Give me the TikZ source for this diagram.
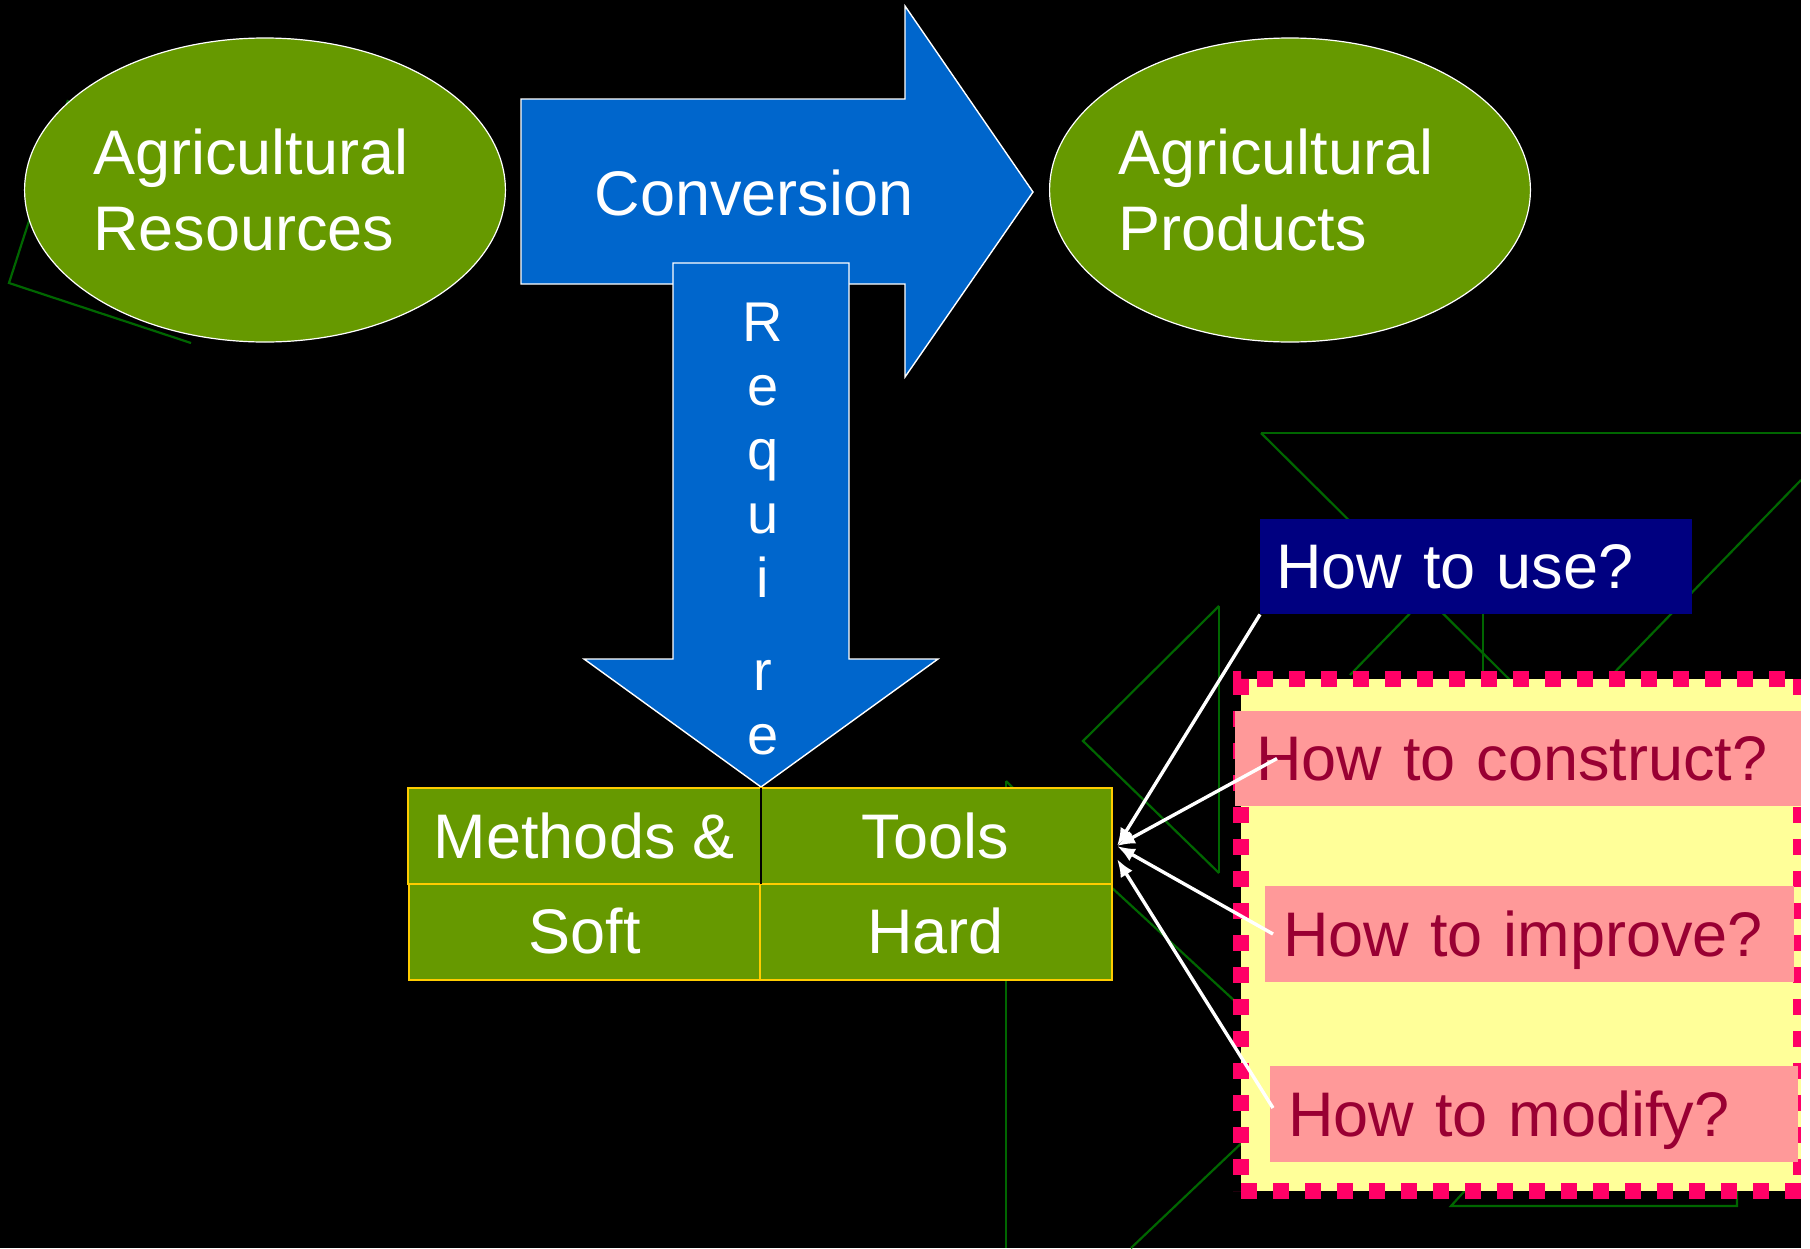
\documentclass[tikz,border=0pt]{standalone}
\usepackage{fontspec}
\setmainfont{Liberation Sans}
\usetikzlibrary{shapes.geometric,arrows.meta,positioning}

\definecolor{leaf}{HTML}{669900}
\definecolor{sky}{HTML}{0066CC}
\definecolor{deepblue}{HTML}{000080}
\definecolor{lemon}{HTML}{FFFF99}
\definecolor{rose}{HTML}{FF9999}
\definecolor{wine}{HTML}{990033}
\definecolor{hotpink}{HTML}{FF0066}
\definecolor{gold}{HTML}{FFCC00}
\definecolor{stem}{HTML}{006600}

\newcommand{\slidefont}{\fontsize{31.5pt}{38pt}\selectfont}

\tikzset{
  blob/.style={ellipse, draw=white, line width=0.6pt, fill=leaf, text=white, font=\slidefont,
    minimum width=240pt, minimum height=152pt, inner xsep=-1pt, inner ysep=0pt, text width=172pt, align=left},
  cell/.style={rectangle, fill=leaf, text=white, font=\slidefont, minimum width=176pt,
    minimum height=48pt, inner sep=0pt, text depth=0pt},
  ask/.style={rectangle, font=\slidefont, minimum height=47.5pt, inner ysep=0pt,
    text depth=0pt, align=left, anchor=west},
  trace/.style={draw=stem, line width=1.1pt},
  bigarrow/.style={fill=sky, draw=white, line width=0.7pt, line join=miter},
}

\begin{document}
\begin{tikzpicture}[x=0.5pt, y=-0.5pt, node distance=175.5pt]
			\useasboundingbox (0,0) rectangle (1810,1248);
			\fill[black] (0,0) rectangle (1801,1248);

			\draw[trace] (68,100) -- (9,283) -- (191,343);
			\draw[trace] (1261,433) -- (1801,433);
			\draw[trace] (1261,433) -- (1515,685);
			\draw[trace] (1801,480) -- (1610,677);
			\draw[trace] (1483,600) -- (1483,685);
			\draw[trace] (1425,598) -- (1350,675);
			\draw[trace] (1219,606) -- (1219,873);
			\draw[trace] (1219,606) -- (1083,741) -- (1219,873);
			\draw[trace] (1060,840) -- (1250,1015);
			\draw[trace] (1006,781) -- (1006,1248);
			\draw[trace] (1006,781) -- (1030,805);
			\draw[trace] (1131,1248) -- (1250,1135);
			\draw[trace] (1470,1185) -- (1451,1206) -- (1737,1206) -- (1737,1185);

			\node[blob] (res) at (265,190) {Agricultural\\Resources};
			\node[blob] (prod) at (1290,190) {Agricultural\\Products};

			\draw[bigarrow] (521,99) -- (905,99) -- (905,6) -- (1033,192) -- (905,377) -- (905,284) -- (521,284) -- cycle;
			\node[font=\slidefont, text=white, text depth=0pt] (conv) at (754,193) {Conversion};

			\draw[bigarrow] (673,263) -- (849,263) -- (849,659) -- (938,659) -- (761,787) -- (584,659) -- (673,659) -- cycle;
			\node[anchor=north, font=\fontsize{28pt}{32pt}\selectfont, align=center, inner sep=0pt, text=white]
				(req) at (763,303) {R\\e\\q\\u\\i\\[14.5pt]r\\e};

			\node[cell, draw=gold, line width=1pt, minimum height=49pt] (soft) at (584.5,931) {Soft};
			\node[cell, draw=gold, line width=1pt, minimum height=49pt] (hard)[right of = soft] {Hard};
			\node[cell] (meth) at (584.5,836) {Methods \&};
			\node[cell] (tools)[right of = meth] {Tools};
			\draw[gold, line width=1pt] (meth.north west) rectangle (tools.south east);
			\draw[black, line width=0.8pt] (meth.north east) -- (meth.south east);

			\node[ask, fill=deepblue, text=white, text width=200pt, inner xsep=8pt] (use) at (1260,566.5) {How to use?};

			\node[draw=hotpink, fill=lemon, line width=8pt, dash pattern=on 8pt off 8pt,
				minimum width=280pt, minimum height=256pt, inner sep=0pt] (frame) at (1521,935) {};

			\node[ask, fill=rose, text=wine, text width=264pt, inner xsep=10.5pt] (cons) at (1235,758.5) {How to construct?};
			\node[ask, fill=rose, text=wine, text width=246.5pt, inner xsep=9pt, minimum height=48pt] (impr) at (1265,934) {How to improve?};
			\node[ask, fill=rose, text=wine, text width=246pt, inner xsep=9pt, minimum height=48pt] (modi) at (1270,1114) {How to modify?};

			\coordinate (tip1) at (1117,846);
			\coordinate (tip2) at (1117,859);

			\path[every edge/.style={draw=white, line width=1.7pt, -{Latex[length=9pt,width=7pt]}}]
				(use.south west) edge (tip1)
				([xshift=21pt]cons.west) edge (tip1)
				([xshift=4pt]impr.west) edge (tip1)
				([xshift=1.5pt, yshift=3pt]modi.west) edge (tip2)
			;

			\fill[white] (1801,0) rectangle (1810,1248);
		\end{tikzpicture}
\end{document}
